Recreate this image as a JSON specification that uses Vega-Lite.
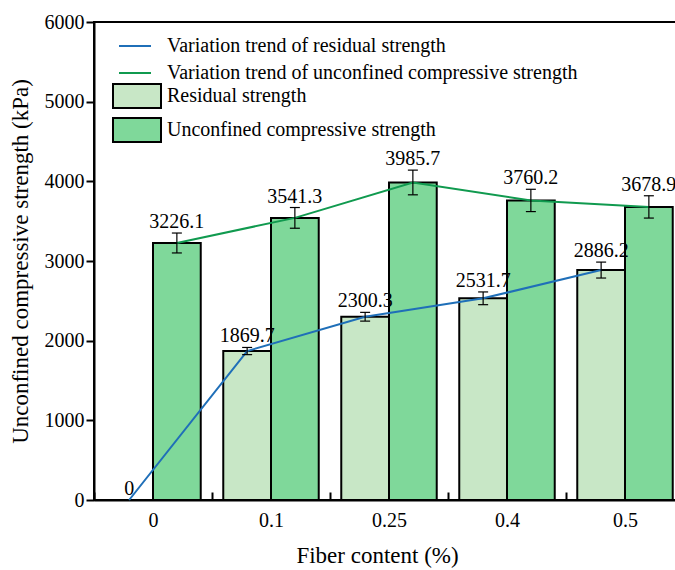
{
  "$schema": "https://vega.github.io/schema/vega-lite/v6.json",
  "width": 590,
  "height": 478,
  "autosize": {"type": "none"},
  "padding": {"left": 94, "top": 22, "right": -9, "bottom": 70},
  "background": "white",
  "config": {
    "font": "Liberation Serif",
    "view": {"stroke": "black", "strokeWidth": 2},
    "axis": {"labelColor": "black", "titleColor": "black", "domainColor": "black", "tickColor": "black", "grid": false, "titleFontWeight": "normal"}
  },
  "data": {
    "values": [
      {"fiber": "0", "type": "Residual strength", "trend": "Variation trend of residual strength", "value": 0, "lo": 0, "hi": 0, "label": "0"},
      {"fiber": "0", "type": "Unconfined compressive strength", "trend": "Variation trend of unconfined compressive strength", "value": 3226.1, "lo": 3101.1, "hi": 3351.1, "label": "3226.1"},
      {"fiber": "0.1", "type": "Residual strength", "trend": "Variation trend of residual strength", "value": 1869.7, "lo": 1824.7, "hi": 1914.7, "label": "1869.7"},
      {"fiber": "0.1", "type": "Unconfined compressive strength", "trend": "Variation trend of unconfined compressive strength", "value": 3541.3, "lo": 3411.3, "hi": 3671.3, "label": "3541.3"},
      {"fiber": "0.25", "type": "Residual strength", "trend": "Variation trend of residual strength", "value": 2300.3, "lo": 2245.3, "hi": 2355.3, "label": "2300.3"},
      {"fiber": "0.25", "type": "Unconfined compressive strength", "trend": "Variation trend of unconfined compressive strength", "value": 3985.7, "lo": 3830.7, "hi": 4140.7, "label": "3985.7"},
      {"fiber": "0.4", "type": "Residual strength", "trend": "Variation trend of residual strength", "value": 2531.7, "lo": 2451.7, "hi": 2611.7, "label": "2531.7"},
      {"fiber": "0.4", "type": "Unconfined compressive strength", "trend": "Variation trend of unconfined compressive strength", "value": 3760.2, "lo": 3620.2, "hi": 3900.2, "label": "3760.2"},
      {"fiber": "0.5", "type": "Residual strength", "trend": "Variation trend of residual strength", "value": 2886.2, "lo": 2786.2, "hi": 2986.2, "label": "2886.2"},
      {"fiber": "0.5", "type": "Unconfined compressive strength", "trend": "Variation trend of unconfined compressive strength", "value": 3678.9, "lo": 3538.9, "hi": 3818.9, "label": "3678.9"}
    ]
  },
  "encoding": {
    "x": {
      "field": "fiber", "type": "nominal", "sort": null,
      "scale": {"paddingInner": 0, "paddingOuter": 0},
      "axis": {
        "title": "Fiber content (%)", "titleFont": "Liberation Serif", "titleFontWeight": "normal", "titleFontSize": 23, "titleX": 283, "titlePadding": 14,
        "labelFont": "Liberation Serif", "labelFontWeight": "normal", "labelAngle": 0, "labelFontSize": 20, "domainWidth": 2,
        "tickBand": "extent", "tickSize": -8, "tickWidth": 2, "labelPadding": 18
      }
    },
    "xOffset": {"field": "type", "type": "nominal", "scale": {"paddingInner": 0, "paddingOuter": 0.236}}
  },
  "layer": [
    {
      "mark": {"type": "bar", "stroke": "black", "strokeWidth": 2},
      "encoding": {
        "y": {
          "field": "value", "type": "quantitative",
          "scale": {"domain": [0, 6000], "nice": false},
          "axis": {
            "title": "Unconfined compressive strength (kPa)", "titleFont": "Liberation Serif", "titleFontWeight": "normal", "titleFontSize": 23, "titlePadding": 12,
            "values": [0, 500, 1000, 1500, 2000, 2500, 3000, 3500, 4000, 4500, 5000, 5500, 6000],
            "format": "d",
            "labelExpr": "datum.value % 1000 === 0 ? datum.label : ''",
            "labelFont": "Liberation Serif", "labelFontWeight": "normal", "labelFontSize": 20, "domainWidth": 2, "tickWidth": 2,
            "tickSize": {"condition": {"test": "datum.value % 1000 === 0", "value": 8}, "value": 5},
            "labelPadding": 2
          }
        },
        "fill": {
          "field": "type", "type": "nominal",
          "scale": {"domain": ["Residual strength", "Unconfined compressive strength"], "range": ["#c8e7c6", "#7fd89a"]},
          "legend": {
            "title": null, "orient": "none", "legendX": 30, "legendY": 61, "padding": 0,
            "symbolType": "M-2,-1H2V1H-2Z", "symbolSize": 576, "symbolStrokeColor": "black", "symbolStrokeWidth": 2, "symbolOpacity": 1,
            "labelFont": "Liberation Serif", "labelFontSize": 20, "labelOffset": 17, "rowPadding": 2, "labelColor": "black", "labelLimit": 600
          }
        }
      }
    },
    {
      "mark": {"type": "line", "strokeWidth": 2},
      "encoding": {
        "y": {"field": "value", "type": "quantitative"},
        "stroke": {
          "field": "trend", "type": "nominal",
          "scale": {"domain": ["Variation trend of residual strength", "Variation trend of unconfined compressive strength"], "range": ["#1f6fb8", "#109a4f"]},
          "legend": {
            "title": null, "orient": "none", "legendX": 30, "legendY": 13, "padding": 0,
            "symbolType": "M-1.6,0H1.6", "symbolSize": 400, "symbolStrokeWidth": 2,
            "labelFont": "Liberation Serif", "labelFontSize": 20, "labelOffset": 21, "rowPadding": 6, "labelColor": "black", "labelLimit": 600
          }
        }
      }
    },
    {
      "transform": [{"filter": "datum.hi > datum.lo"}],
      "mark": {"type": "rule", "color": "black", "strokeWidth": 1.2},
      "encoding": {
        "y": {"field": "lo", "type": "quantitative"},
        "y2": {"field": "hi"}
      }
    },
    {
      "transform": [{"filter": "datum.hi > datum.lo"}],
      "mark": {"type": "tick", "color": "black", "size": 10, "thickness": 1.2, "opacity": 1},
      "encoding": {"y": {"field": "lo", "type": "quantitative"}}
    },
    {
      "transform": [{"filter": "datum.hi > datum.lo"}],
      "mark": {"type": "tick", "color": "black", "size": 10, "thickness": 1.2, "opacity": 1},
      "encoding": {"y": {"field": "hi", "type": "quantitative"}}
    },
    {
      "mark": {"type": "text", "font": "Liberation Serif", "fontSize": 20, "baseline": "alphabetic", "dy": -5, "color": "black"},
      "encoding": {
        "y": {"field": "hi", "type": "quantitative"},
        "text": {"field": "label"}
      }
    }
  ]
}
